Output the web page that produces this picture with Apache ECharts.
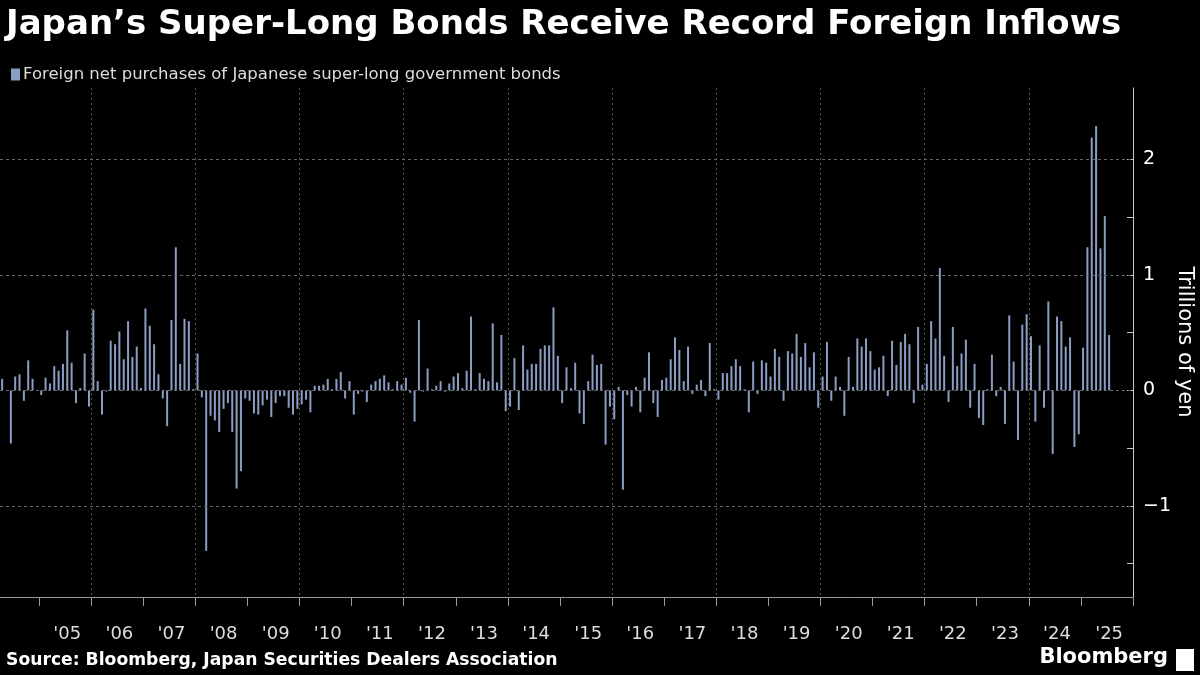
<!DOCTYPE html>
<html>
<head>
<meta charset="utf-8">
<script src="https://cdn.jsdelivr.net/npm/echarts@6/dist/echarts.min.js"></script>
<style>
  html, body { margin: 0; padding: 0; background: #000; }
  #chart { width: 1200px; height: 675px; }
</style>
</head>
<body>
<div id="chart"></div>
<script>
// 月度数据, 2004年4月起 (万亿日元)
const y2004 = [0.10, 0.00, -0.46, 0.12, 0.14, -0.09, 0.26, 0.10, 0.00]
const y2005 = [-0.04, 0.11, 0.06, 0.21, 0.17, 0.23, 0.52, 0.24, -0.11, 0.02, 0.32, -0.14]
const y2006 = [0.70, 0.08, -0.21, -0.01, 0.43, 0.40, 0.51, 0.27, 0.60, 0.29, 0.38, 0.02]
const y2007 = [0.71, 0.56, 0.40, 0.14, -0.07, -0.31, 0.61, 1.24, 0.23, 0.62, 0.60, 0.01]
const y2008 = [0.32, -0.06, -1.39, -0.22, -0.26, -0.36, -0.16, -0.11, -0.36, -0.85, -0.70, -0.07]
const y2009 = [-0.09, -0.20, -0.21, -0.13, -0.08, -0.23, -0.11, -0.05, -0.05, -0.15, -0.21, -0.16]
const y2010 = [-0.12, -0.08, -0.19, 0.04, 0.04, 0.05, 0.10, 0.01, 0.10, 0.16, -0.07, 0.08]
const y2011 = [-0.21, -0.03, -0.01, -0.10, 0.05, 0.08, 0.10, 0.13, 0.07, 0.01, 0.08, 0.05]
const y2012 = [0.11, -0.02, -0.27, 0.61, -0.01, 0.19, 0.01, 0.04, 0.08, -0.01, 0.06, 0.12]
const y2013 = [0.15, 0.02, 0.17, 0.64, 0.01, 0.15, 0.10, 0.08, 0.58, 0.07, 0.48, -0.18]
const y2014 = [-0.14, 0.28, -0.17, 0.39, 0.18, 0.23, 0.23, 0.36, 0.39, 0.39, 0.72, 0.30]
const y2015 = [-0.11, 0.20, 0.02, 0.24, -0.20, -0.29, 0.08, 0.31, 0.22, 0.23, -0.47, -0.14]
const y2016 = [-0.25, 0.03, -0.86, -0.04, -0.14, 0.03, -0.19, 0.11, 0.33, -0.11, -0.23, 0.09]
const y2017 = [0.11, 0.27, 0.46, 0.35, 0.08, 0.38, -0.03, 0.05, 0.09, -0.05, 0.41, 0.01]
const y2018 = [-0.08, 0.15, 0.15, 0.21, 0.27, 0.21, 0.01, -0.19, 0.25, -0.03, 0.26, 0.24]
const y2019 = [0.12, 0.36, 0.29, -0.09, 0.34, 0.32, 0.49, 0.29, 0.41, 0.20, 0.33, -0.15]
const y2020 = [0.12, 0.42, -0.09, 0.12, 0.03, -0.22, 0.29, 0.03, 0.45, 0.38, 0.45, 0.34]
const y2021 = [0.18, 0.20, 0.30, -0.05, 0.43, 0.22, 0.42, 0.49, 0.40, -0.11, 0.55, 0.05]
const y2022 = [0.23, 0.60, 0.45, 1.06, 0.30, -0.10, 0.55, 0.21, 0.32, 0.44, -0.15, 0.23]
const y2023 = [-0.24, -0.30, 0.01, 0.31, -0.05, 0.03, -0.29, 0.65, 0.25, -0.43, 0.57, 0.66]
const y2024 = [0.47, -0.27, 0.39, -0.15, 0.77, -0.55, 0.64, 0.60, 0.38, 0.46, -0.49, -0.38]
const y2025 = [0.37, 1.24, 2.19, 2.29, 1.23, 1.51, 0.48, null, null, null, null, null]

const yTickLabels = [-1, 0, 1, 2]
const yMinorTicks = [-1.5, -1, -0.5, 0, 0.5, 1, 1.5, 2]

const values = [].concat(y2004, y2005, y2006, y2007, y2008, y2009, y2010, y2011, y2012,
    y2013, y2014, y2015, y2016, y2017, y2018, y2019, y2020, y2021, y2022, y2023, y2024, y2025)

// 类目: 年-月
const monthOf = (i) => (3 + i) % 12
const yearOf = (i) => 2004 + Math.floor((3 + i) / 12)
const months = []
const janIdx = []
const evenJanIdx = []
for (let i = 0; i < values.length; i++) {
    months.push(yearOf(i) + '-' + (monthOf(i) + 1))
    if (monthOf(i) === 0) {
        janIdx.push(i)
        if (yearOf(i) % 2 === 0) evenJanIdx.push(i)
    }
}

const FONT = 'DejaVu Sans'
let chart = echarts.init(document.getElementById('chart'))
const option = {
    backgroundColor: '#000',
    animation: false,
    title: {
        text: 'Japan’s Super-Long Bonds Receive Record Foreign Inflows',
        left: 1,
        top: 3,
        textStyle: {
            color: '#fff',
            fontSize: 34,
            fontWeight: 'bold',
            fontFamily: FONT
        }
    },
    legend: {
        left: 6,
        top: 61,
        itemWidth: 9,
        itemHeight: 12,
        itemGap: 4,
        icon: 'rect',
        textStyle: {color: '#ddd', fontSize: 16.5, fontFamily: FONT, padding: [0, 0, 0, -2]},
        data: ['Foreign net purchases of Japanese super-long government bonds']
    },
    grid: {left: 0, right: 67, top: 88, bottom: 78, outerBoundsMode: 'none'},
    xAxis: [{
        type: 'category',
        data: months,
        boundaryGap: true,
        axisLine: {onZero: false, lineStyle: {color: '#999'}},
        axisTick: {
            show: true,
            length: 9,
            lineStyle: {color: '#999'},
            customValues: janIdx
        },
        axisLabel: {
            color: '#ddd',
            fontSize: 18,
            margin: 28,
            fontFamily: FONT,
            interval: (i) => monthOf(i) === 6 && yearOf(i) > 2004,
            formatter: (v) => "'" + v.slice(2, 4)
        },
        splitLine: {show: false}
    }, {
        // 仅用于每两年一条竖向虚线
        type: 'category',
        data: months,
        boundaryGap: true,
        position: 'bottom',
        axisLine: {show: false},
        axisLabel: {show: false},
        axisTick: {show: false, customValues: evenJanIdx},
        splitLine: {
            show: true,
            lineStyle: {color: '#555', type: [2, 3]}
        }
    }],
    yAxis: {
        type: 'value',
        position: 'right',
        min: -1.79,
        max: 2.62,
        axisLine: {show: true, lineStyle: {color: '#ccc'}},
        axisTick: {show: true, inside: true, length: 6, customValues: yMinorTicks, lineStyle: {color: '#ccc'}},
        axisLabel: {
            color: '#fff',
            fontSize: 19,
            margin: 10,
            fontFamily: FONT,
            customValues: yTickLabels,
            formatter: (v) => v < 0 ? '\u2212' + Math.abs(v) : String(v)
        },
        splitLine: {show: false}
    },
    series: [{
        name: 'Foreign net purchases of Japanese super-long government bonds',
        type: 'bar',
        data: values,
        barWidth: 2,
        itemStyle: {color: '#8c9dc4'},
        markLine: {
            silent: true,
            symbol: 'none',
            label: {show: false},
            lineStyle: {color: '#666', type: [3, 3], width: 1},
            data: yTickLabels.map(v => ({yAxis: v}))
        }
    }],
    graphic: [
        {
            type: 'text',
            x: 1184,
            y: 342,
            rotation: -Math.PI / 2,
            style: {
                text: 'Trillions of yen',
                fill: '#fff',
                align: 'center',
                verticalAlign: 'middle',
                font: '21px "DejaVu Sans"'
            }
        },
        {
            type: 'text',
            left: 6,
            top: 652,
            style: {
                text: 'Source: Bloomberg, Japan Securities Dealers Association',
                fill: '#fff',
                font: 'bold 17.2px "DejaVu Sans"'
            }
        },
        {
            type: 'text',
            right: 32,
            top: 647,
            style: {
                text: 'Bloomberg',
                fill: '#fff',
                font: 'bold 21px "DejaVu Sans"'
            }
        },
        {
            type: 'rect',
            right: 6,
            top: 649,
            shape: {width: 18, height: 22},
            style: {fill: '#fff'}
        }
    ]
}
chart.setOption(option)
</script>
</body>
</html>
